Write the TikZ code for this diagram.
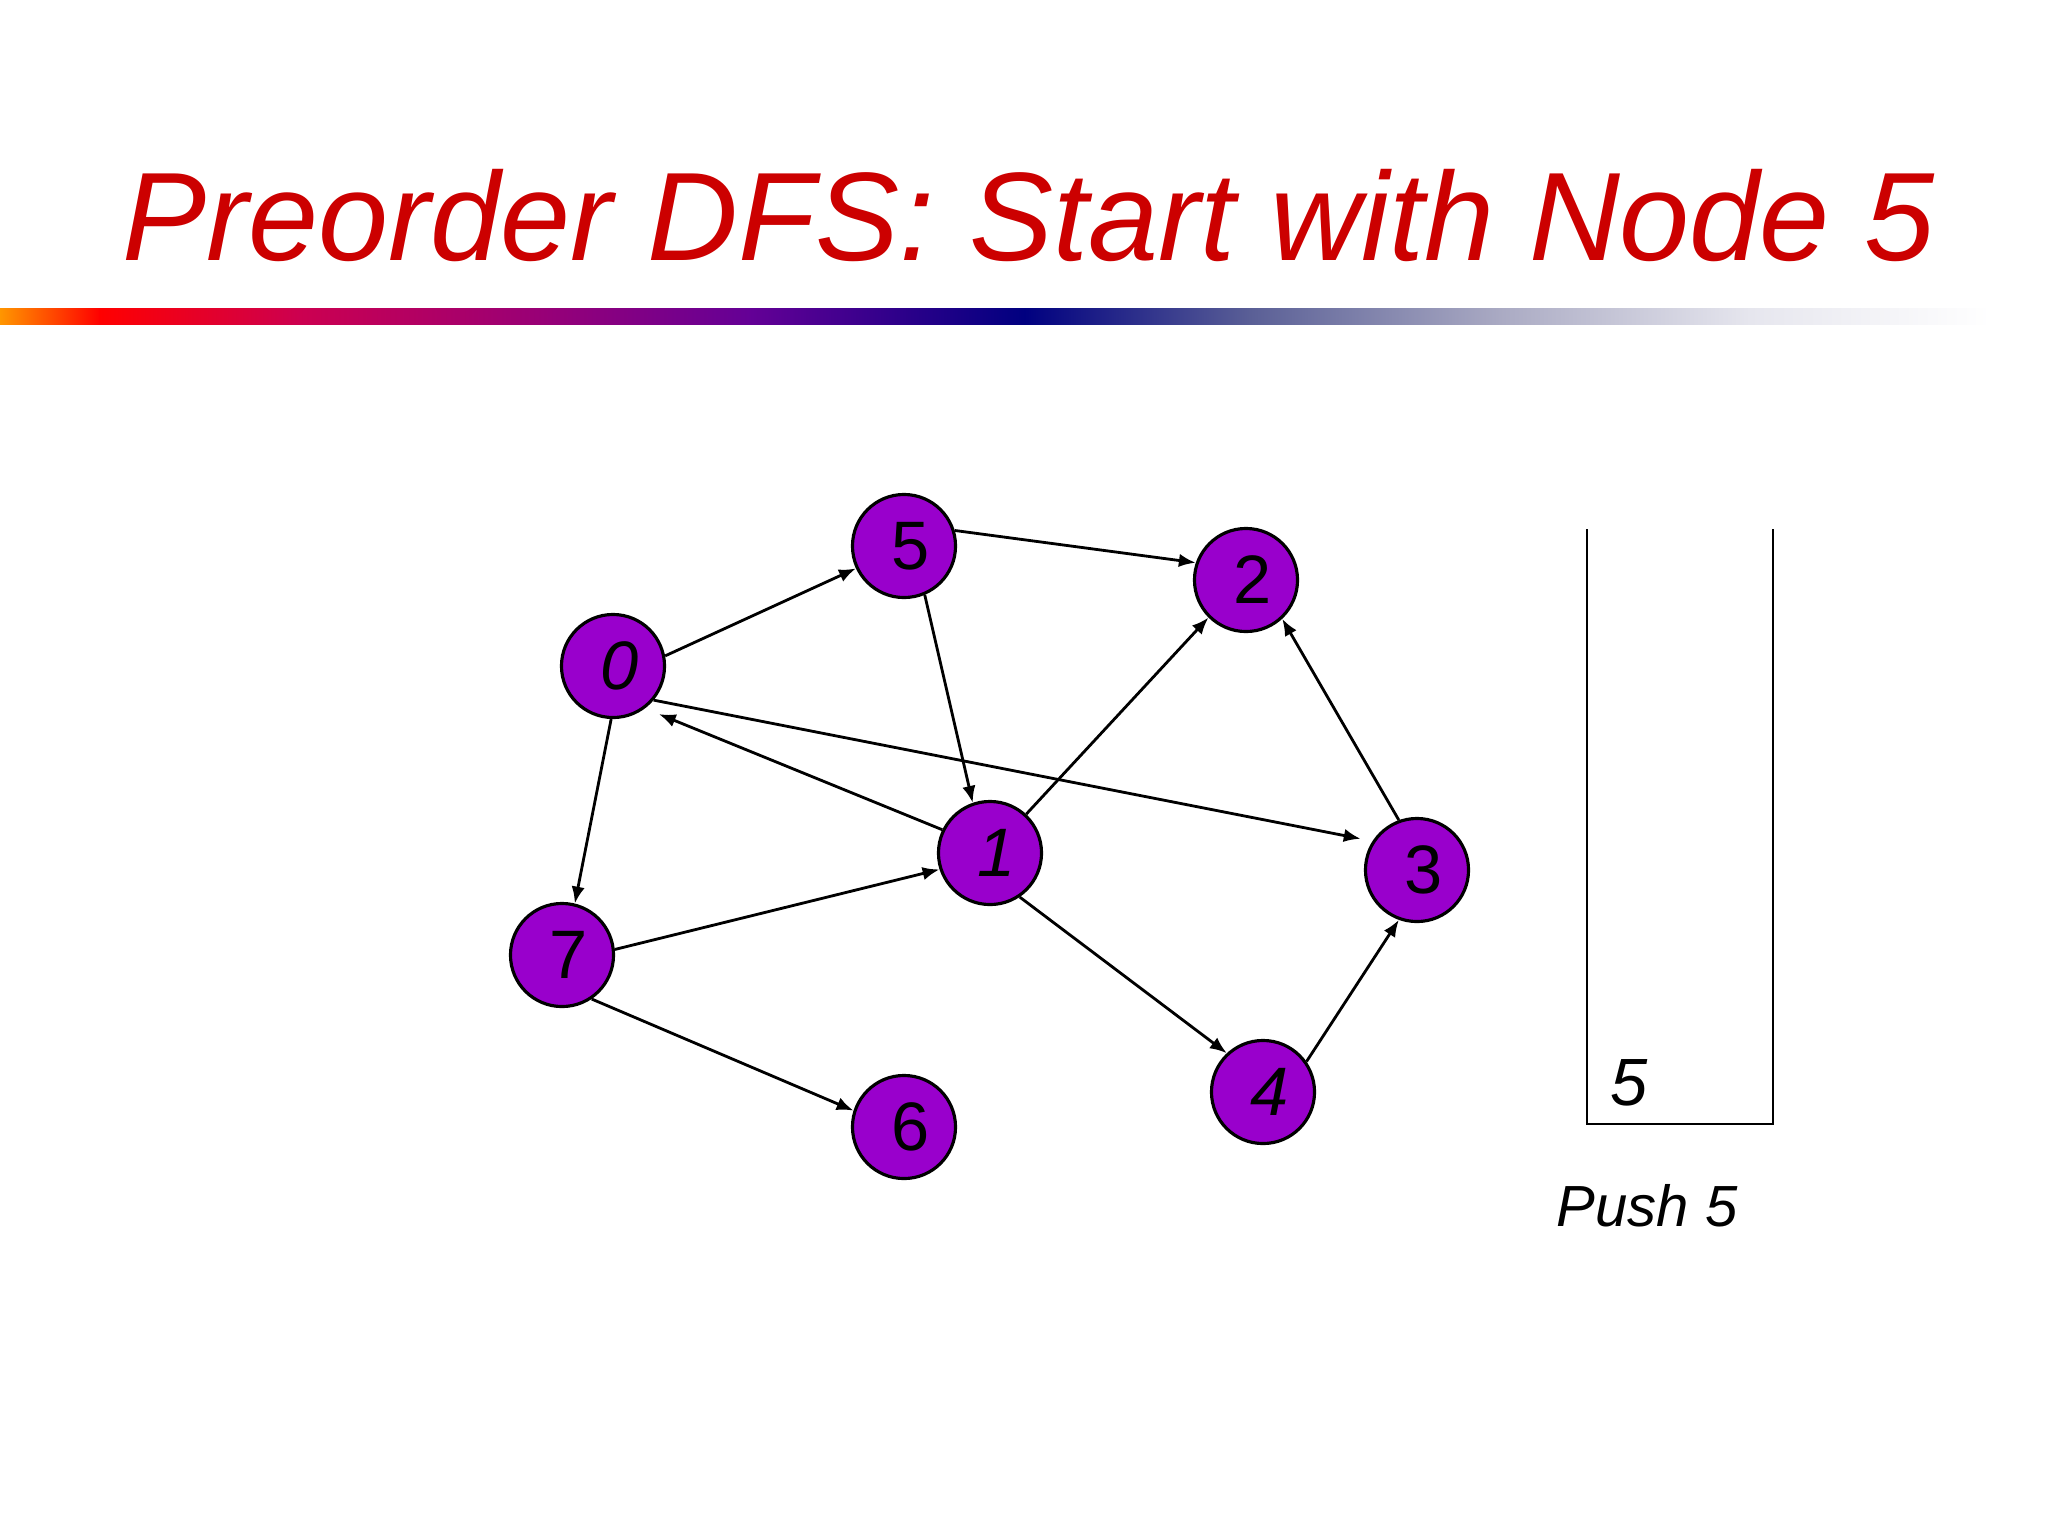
\documentclass[tikz,border=0pt]{standalone}
\usepackage{fontspec}
\setmainfont{Liberation Sans}
\usetikzlibrary{arrows.meta}
\definecolor{nodepurple}{RGB}{153,0,204}
\definecolor{titlered}{RGB}{204,0,0}
\definecolor{g0}{RGB}{255,150,0}
\definecolor{g1}{RGB}{255,0,0}
\definecolor{g2}{RGB}{204,0,80}
\definecolor{g3}{RGB}{150,0,120}
\definecolor{g4}{RGB}{100,0,150}
\definecolor{g5}{RGB}{0,0,128}
\definecolor{g6}{RGB}{90,95,150}
\definecolor{g7}{RGB}{170,170,195}
\definecolor{g8}{RGB}{230,230,238}
\newcommand{\nlab}[1]{\hspace*{0.14cm}#1}
\tikzset{
  gnode/.style={circle, draw=black, line width=0.9pt, fill=nodepurple, minimum size=1.03cm, inner sep=0pt, font=\fontsize{19.5pt}{19.5pt}\selectfont},
  edge/.style={line width=0.8pt, -{Latex[length=4.8pt,width=3.8pt]}},
  stackline/.style={line width=0.8pt},
}
\begin{document}
\begin{tikzpicture}[x=0.01cm,y=-0.01cm]
\useasboundingbox (0,0) rectangle (2048,1536);
\fill[white] (0,0) rectangle (2048,1536);
% title
\node[anchor=base, text=titlered, font=\fontsize{35.8pt}{36pt}\selectfont\itshape, inner sep=0pt] (title) at (1029,260) {Preorder DFS: Start with Node 5};
% gradient bar
\shade[left color=g0, right color=g1] (0,308) rectangle (100,324);
\shade[left color=g1, right color=g2] (99.5,308) rectangle (300,324);
\shade[left color=g2, right color=g3] (299.5,308) rectangle (550,324);
\shade[left color=g3, right color=g4] (549.5,308) rectangle (750,324);
\shade[left color=g4, right color=g5] (749.5,308) rectangle (1025,324);
\shade[left color=g5, right color=g6] (1024.5,308) rectangle (1250,324);
\shade[left color=g6, right color=g7] (1249.5,308) rectangle (1500,324);
\shade[left color=g7, right color=g8] (1499.5,308) rectangle (1750,324);
\shade[left color=g8, right color=white] (1749.5,308) rectangle (1990,324);
% nodes
\node[gnode] (n5) at (904,546) {\nlab{5}};
\node[gnode] (n2) at (1246,580) {\nlab{2}};
\node[gnode] (n0) at (613,666) {\nlab{\itshape 0}};
\node[gnode] (n1) at (990,853) {\nlab{\itshape 1}};
\node[gnode] (n3) at (1417,870) {\nlab{3}};
\node[gnode] (n7) at (562,955) {\nlab{7}};
\node[gnode] (n4) at (1263,1092) {\nlab{\itshape 4}};
\node[gnode] (n6) at (904,1127) {\nlab{6}};
% edges
\draw[edge] (n0.11) -- (n5.205);
\draw[edge] (n5.17) -- (n2.161);
\draw[edge] (n5.-67) -- (n1.109);
\draw[edge, shorten >=0.15cm] (n1.154) -- (n0.-53);
\draw[edge, shorten >=0.12cm] (n0.-40) -- (n3.147);
\draw[edge] (n0.-92) -- (n7.76);
\draw[edge] (n7.6) -- (n1.198);
\draw[edge] (n1.47) -- (n2.225);
\draw[edge] (n1.-56) -- (n4.133);
\draw[edge] (n3.110) -- (n2.-47);
\draw[edge] (n4.35) -- (n3.250);
\draw[edge] (n7.-56) -- (n6.162);
% stack
\coordinate (stl) at (1587,529);
\coordinate (sbl) at (1587,1124);
\coordinate (sbr) at (1773,1124);
\coordinate (str) at (1773,529);
\draw[stackline] (stl) -- (sbl) -- (sbr) -- (str);
\node[font=\fontsize{19pt}{19pt}\selectfont\itshape, inner sep=0pt] (s5) at (1629,1083) {5};
\node[font=\fontsize{16.5pt}{16.5pt}\selectfont\itshape, inner sep=0pt] (push) at (1647,1206) {Push 5};
\end{tikzpicture}
\end{document}
